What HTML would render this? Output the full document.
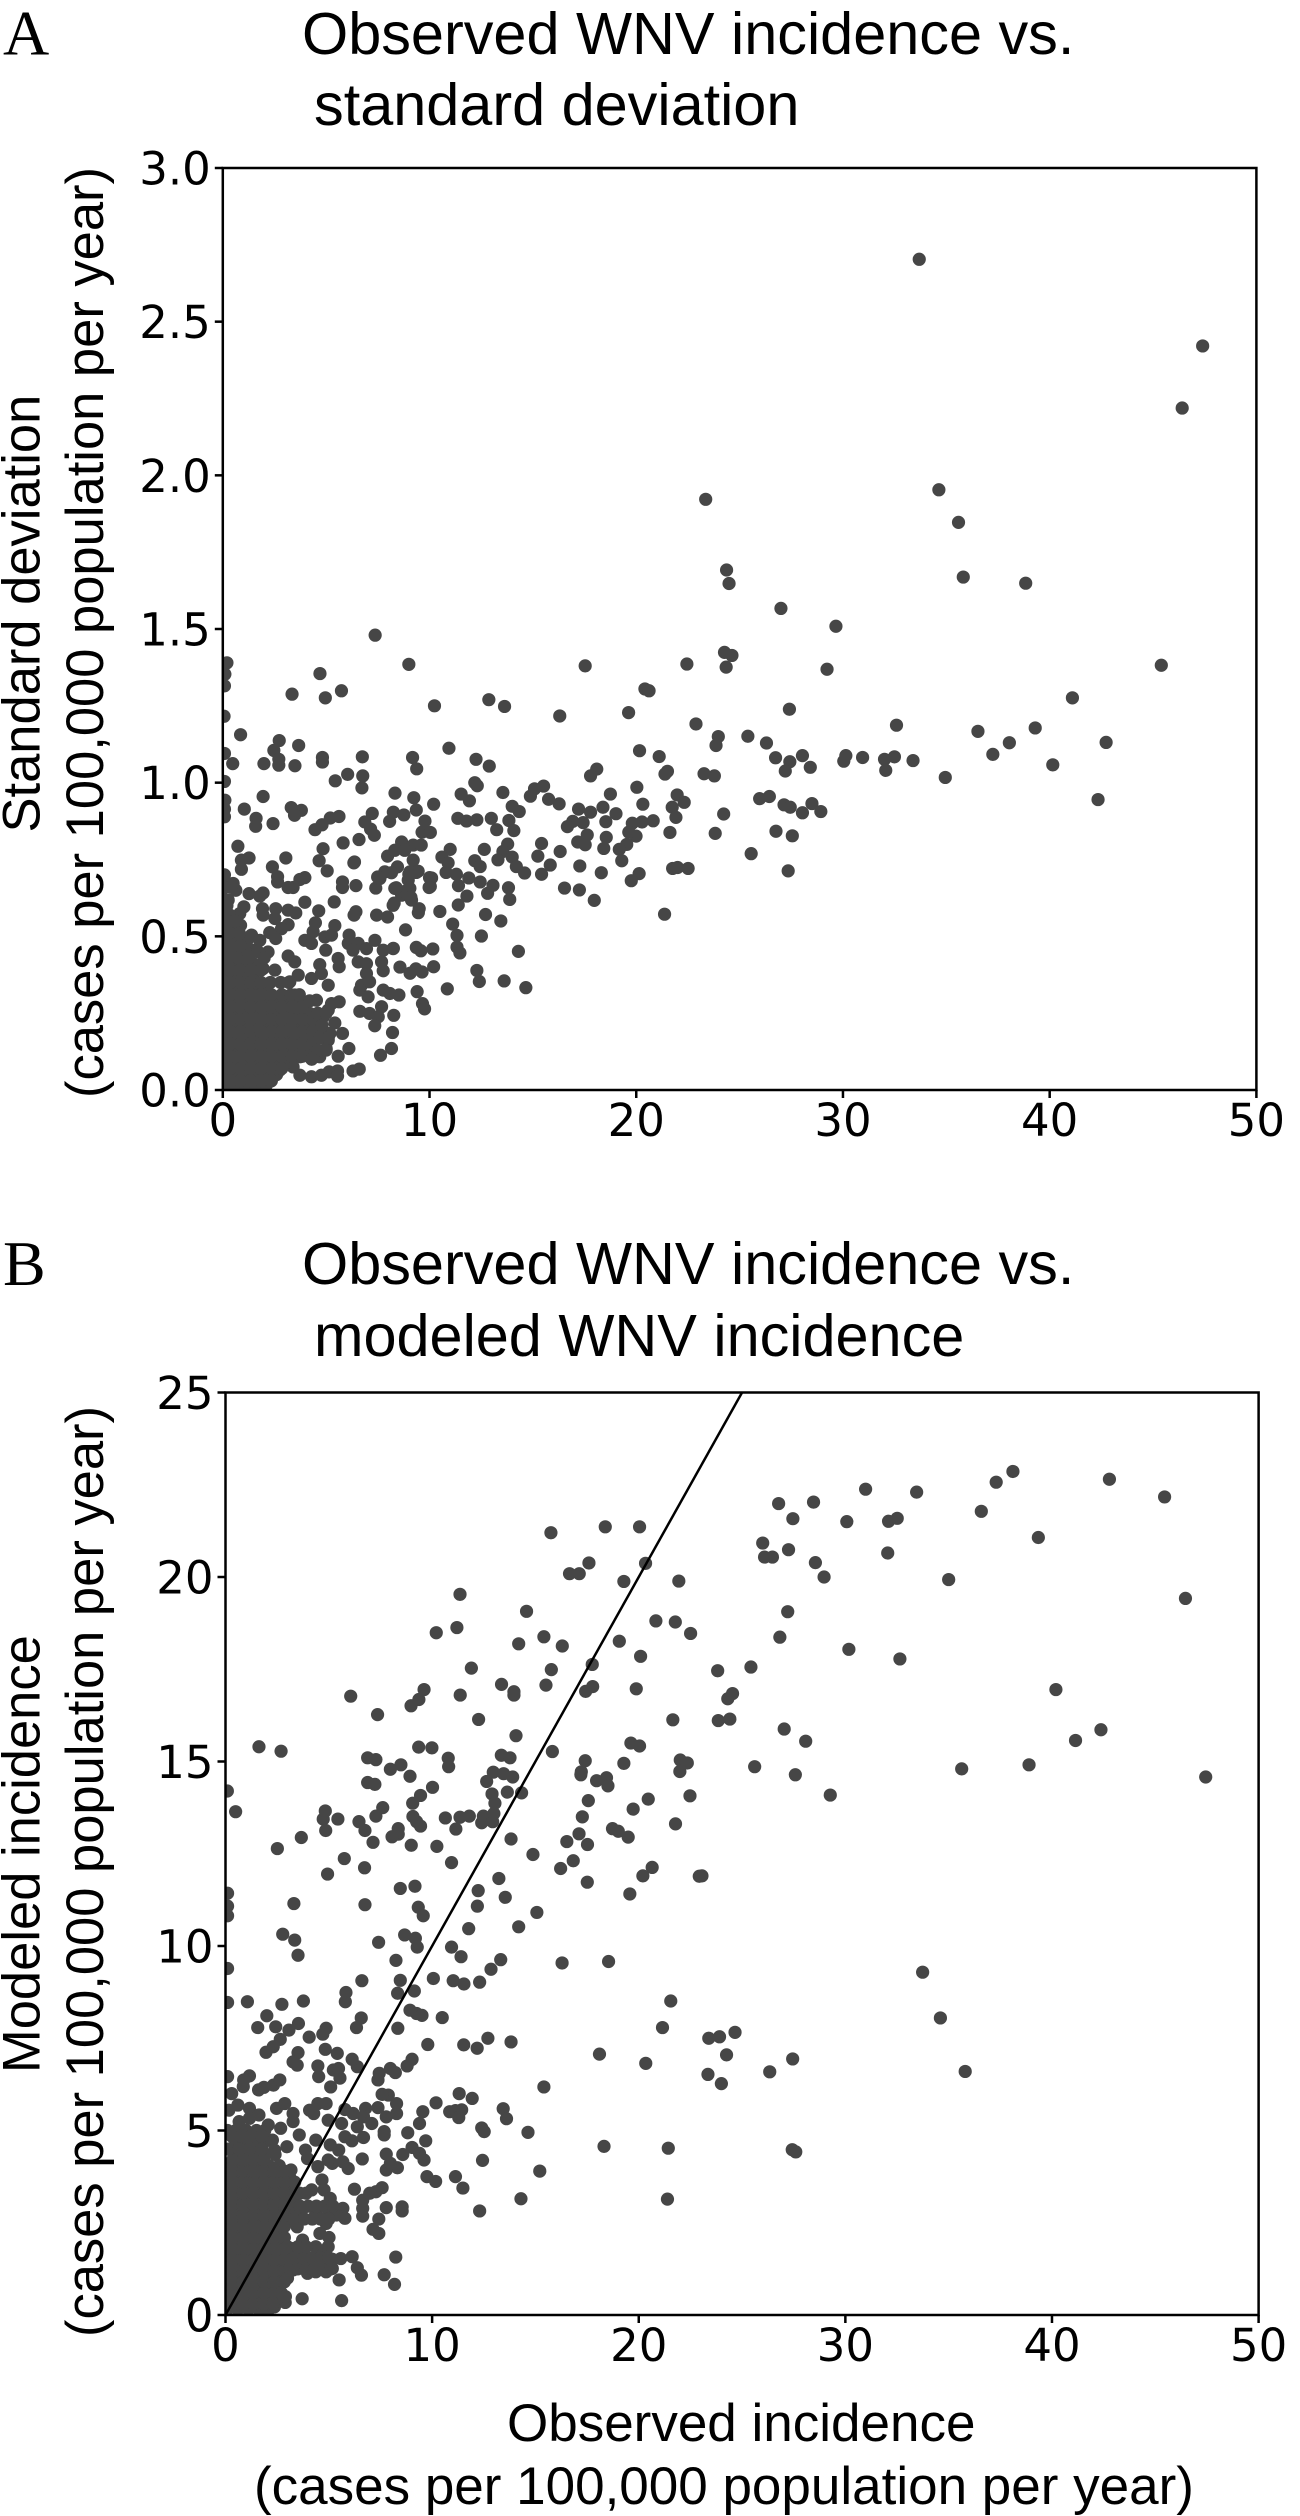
<!DOCTYPE html>
<html lang="en">
<head>
<meta charset="utf-8">
<title>Observed WNV incidence charts</title>
<style>
html,body{margin:0;padding:0;background:#fff;width:1300px;height:2516px;overflow:hidden}
svg{display:block}
.ttl,.lab{font-family:"Liberation Sans",Arial,sans-serif;fill:#000}
.ttl{font-size:59.4px}
.lab{font-size:53px}
.lab.yl{font-size:52.5px}
.let{font-family:"Liberation Serif",serif;font-size:64px;fill:#000}
</style>
</head>
<body>
<svg id="figure" xmlns="http://www.w3.org/2000/svg" width="1300" height="2516" viewBox="0 0 1300 2516">
<text class="let" x="3" y="54.5">A</text>
<text class="ttl" x="302" y="54">Observed WNV incidence vs.</text>
<text class="ttl" x="314" y="125">standard deviation</text>
<text class="lab yl" transform="translate(39.5,832.5) rotate(-90)">Standard deviation</text>
<text class="lab yl" transform="translate(103,1098) rotate(-90)">(cases per 100,000 population per year)</text>
<text class="let" x="3" y="1285">B</text>
<text class="ttl" x="302" y="1284">Observed WNV incidence vs.</text>
<text class="ttl" x="314" y="1356">modeled WNV incidence</text>
<text class="lab yl" transform="translate(39.5,2073) rotate(-90)">Modeled incidence</text>
<text class="lab yl" transform="translate(103,2337) rotate(-90)">(cases per 100,000 population per year)</text>
<text class="lab" x="507" y="2441">Observed incidence</text>
<text class="lab" x="254" y="2504">(cases per 100,000 population per year)</text>
</svg>
<script>
const xTickValues=[0,10,20,30,40,50];
const xTickLabels=['0','10','20','30','40','50'];
const panelAYTickValues=[0,0.5,1,1.5,2,2.5,3];
const panelAYTickLabels=['0.0','0.5','1.0','1.5','2.0','2.5','3.0'];
const panelBYTickValues=[0,5,10,15,20,25];
const panelBYTickLabels=['0','5','10','15','20','25'];
const referenceLineValues=[0,25];

const panelAObserved=[
33.69,47.4,46.41,23.36,34.64,35.59,24.37,24.49,35.82,38.84,27.0,29.66,
24.27,24.63,22.45,24.35,29.23,45.4,20.42,20.62,41.1,27.41,19.63,22.89,
32.59,36.53,39.3,42.73,38.05,37.25,40.15,34.95,42.34,23.97,23.86,25.4,
26.3,26.74,27.43,28.04,28.42,27.21,30.04,30.14,30.95,32.01,32.49,32.07,
33.39,20.16,21.11,21.51,21.39,23.28,23.78,20.03,21.98,22.32,20.32,21.74,
21.92,25.97,26.44,27.15,27.45,28.5,28.04,28.93,24.23,20.82,20.28,19.81,
21.63,23.82,26.76,27.55,19.99,25.56,27.35,21.76,22.0,22.51,21.37,7.37,
9.0,17.53,4.7,5.74,3.35,4.96,10.24,12.87,13.63,16.3,10.94,0.86,
2.73,2.47,3.67,0.2,0.1,0.08,0.06,0.08,0.08,0.1,0.08,0.08,
0.48,1.99,2.71,2.71,3.49,4.82,4.82,6.75,9.18,9.38,6.77,6.04,
5.44,6.73,12.25,12.89,12.19,12.31,18.09,17.79,15.52,15.08,14.88,15.76,
16.27,13.55,11.53,11.93,18.75,8.33,9.24,9.36,10.2,1.95,1.04,3.31,
3.8,3.47,1.61,1.59,2.43,7.23,6.87,7.15,7.33,6.59,5.62,5.2,
4.8,4.46,8.25,8.07,8.76,9.78,9.64,10.04,11.37,11.79,12.29,12.99,
13.25,14.0,14.34,13.84,14.08,17.21,17.79,18.39,19.02,18.53,19.64,16.93,
17.43,16.67,17.63,18.55,19.54,17.17,17.53,18.43,19.18,19.3,15.42,13.78,
12.65,13.55,16.32,15.24,14.0,13.31,14.2,15.84,12.19,12.45,17.27,14.6,
15.42,20.14,19.76,18.31,16.53,17.25,17.97,13.82,13.07,12.81,13.88,11.9,
12.45,11.0,10.6,10.9,10.8,11.3,10.1,10.04,11.4,11.81,11.39,10.5,
12.71,13.45,11.12,11.33,12.51,11.33,11.47,14.3,12.29,12.41,13.61,14.66,
10.86,10.16,10.2,9.58,9.36,9.64,9.34,9.06,8.57,8.84,8.25,9.46,
9.4,9.66,9.76,0.73,1.27,0.9,0.9,3.05,2.4,2.65,2.65,3.97,
3.73,3.4,3.16,4.85,4.66,5.05,5.82,6.34,5.79,5.79,6.44,7.4,
7.6,7.84,8.45,8.16,7.97,8.32,8.65,9.21,9.6,8.8,9.21,9.05,
9.45,8.97,9.05,8.32,8.65,8.24,9.13,10.0,9.98,6.44,6.35,7.44,
7.97,5.39,4.64,3.97,1.95,1.27,1.79,0.5,0.63,0.26,1.02,0.82,
1.92,2.56,1.95,2.52,3.16,3.53,4.48,5.42,3.16,2.84,2.27,2.56,
0.86,0.34,0.34,1.39,1.06,1.79,2.19,1.47,0.34,4.37,3.97,4.29,
4.94,5.26,4.98,6.11,6.07,6.55,6.95,7.36,7.76,8.24,6.3,3.16,
3.48,4.69,4.77,5.58,5.63,5.1,4.29,3.65,3.24,2.52,1.95,1.47,
0.82,6.55,6.95,7.68,7.76,6.95,6.71,7.1,6.63,7.03,7.76,8.52,
8.08,7.68,6.63,7.1,7.52,8.27,7.35,8.21,8.16,7.63,5.79,6.1,
5.42,5.58,5.63,5.1,5.26,4.53,3.73,3.48,2.76,4.86,4.37,4.69,
5.1,5.18,5.0,4.37,4.69,3.73,3.89,3.57,3.08,2.6,2.27,2.92,
1.95,1.47,1.47,0.82,0.5,0.82,0.34,2.76,3.4,3.73,4.29,4.77,
5.14,5.55,5.55,6.3,6.6,0.34,0.34,2.11,1.47,3.08,3.24,4.21,
4.05,4.21,3.4,2.6,6.37,7.49,9.36,9.0,8.8,8.29,9.1,8.39,9.5,
0.1,0.6,1.1,1.6,2.1,
0.1,0.6,1.1,1.6,2.1,2.6,
0.1,0.6,1.1,1.6,2.1,2.6,3.1,
0.1,0.6,1.1,1.6,2.1,2.6,3.1,3.6,
0.1,0.6,1.1,1.6,2.1,2.6,3.1,3.6,4.1,
0.1,0.6,1.1,1.6,2.1,2.6,3.1,3.6,4.1,
0.1,0.6,1.1,1.6,2.1,2.6,3.1,3.6,
0.1,0.6,1.1,1.6,2.1,2.6,3.1,
0.1,0.6,1.1,1.6,2.1,
0.1,0.6,1.1,
0.1,0.5,1.0,1.5,
0.1,0.6,1.1,1.7,
0.1,0.6,1.2,
0.1,0.5,
0.1,0.3,
0.1,0.1,0.4,0.08,
0.35,0.85,1.35,1.85,2.35,
0.35,0.85,1.35,1.85,2.35,2.85,
0.35,0.85,1.35,1.85,2.35,2.85,3.35,3.85,
0.35,0.85,1.35,1.85,2.35,2.85,3.35,3.85,4.35,
0.35,0.85,1.35,1.85,2.35,2.85,3.35,3.85,4.35,
0.35,0.85,1.35,1.85,2.35,2.85,3.35,3.85,4.35,
0.35,0.85,1.35,1.85,2.35,2.85,3.35,3.85,
0.35,0.85,1.35,1.85,2.35,2.85,
0.35,0.85,1.35,1.85,2.3,
0.35,0.85,1.35,1.85,
0.3,0.75,1.25,2.0,
0.35,0.85,
0.3,0.8,
0.2,0.6,
0.2,
4.6,5.0,4.7,5.1,4.8,4.6,5.0,4.2,4.3,3.3,3.7,2.8,3.2
];
const panelAStdDev=[
2.703,2.421,2.219,1.922,1.953,1.847,1.692,1.648,1.669,1.649,1.567,1.509,
1.424,1.414,1.386,1.376,1.369,1.382,1.305,1.299,1.276,1.239,1.228,1.191,
1.187,1.167,1.178,1.131,1.13,1.092,1.058,1.017,0.945,1.15,1.121,1.151,
1.129,1.081,1.068,1.088,1.05,1.038,1.07,1.088,1.082,1.076,1.084,1.04,
1.072,1.104,1.085,1.037,1.028,1.029,1.022,0.985,0.96,0.936,0.93,0.92,
0.887,0.948,0.955,0.928,0.92,0.932,0.902,0.906,0.898,0.876,0.872,0.868,
0.838,0.835,0.842,0.827,0.826,0.769,0.713,0.721,0.724,0.721,0.572,1.48,
1.385,1.38,1.355,1.299,1.288,1.276,1.25,1.27,1.248,1.217,1.112,1.156,
1.137,1.105,1.121,1.39,1.353,1.315,1.216,1.095,1.004,0.943,0.914,0.889,
1.062,1.062,1.076,1.057,1.055,1.082,1.067,1.084,1.082,1.045,1.022,1.027,
1.006,0.983,1.076,1.054,1.0,0.99,1.044,1.022,0.989,0.98,0.956,0.946,
0.931,0.968,0.963,0.941,0.963,0.966,0.951,0.911,0.93,0.955,0.914,0.919,
0.91,0.894,0.884,0.858,0.867,0.9,0.872,0.849,0.829,0.815,0.89,0.885,
0.863,0.847,0.904,0.874,0.895,0.875,0.839,0.838,0.884,0.875,0.879,0.884,
0.847,0.923,0.906,0.877,0.844,0.914,0.904,0.92,0.899,0.873,0.839,0.874,
0.87,0.857,0.83,0.822,0.799,0.807,0.798,0.786,0.783,0.746,0.802,0.8,
0.783,0.776,0.776,0.761,0.758,0.749,0.727,0.732,0.746,0.727,0.729,0.706,
0.702,0.704,0.681,0.707,0.657,0.651,0.617,0.658,0.666,0.64,0.62,0.69,
0.677,0.783,0.758,0.739,0.708,0.702,0.69,0.662,0.665,0.631,0.602,0.581,
0.571,0.55,0.54,0.503,0.501,0.465,0.446,0.451,0.389,0.353,0.355,0.333,
0.329,0.459,0.401,0.453,0.464,0.384,0.394,0.38,0.4,0.521,0.461,0.577,
0.32,0.281,0.264,0.793,0.755,0.748,0.718,0.755,0.726,0.694,0.677,0.691,
0.685,0.659,0.659,0.785,0.746,0.713,0.804,0.739,0.677,0.659,0.665,0.657,
0.688,0.71,0.726,0.707,0.761,0.78,0.807,0.797,0.797,0.78,0.748,0.71,
0.712,0.683,0.656,0.656,0.634,0.601,0.618,0.691,0.659,0.58,0.569,0.569,
0.563,0.612,0.583,0.611,0.641,0.639,0.631,0.672,0.65,0.618,0.596,0.574,
0.59,0.59,0.569,0.558,0.585,0.576,0.544,0.535,0.538,0.525,0.512,0.493,
0.536,0.569,0.504,0.504,0.482,0.487,0.449,0.455,0.455,0.515,0.487,0.477,
0.498,0.504,0.455,0.504,0.477,0.477,0.46,0.487,0.455,0.46,0.455,0.436,
0.417,0.408,0.379,0.428,0.401,0.341,0.363,0.374,0.352,0.39,0.395,0.379,
0.379,0.417,0.411,0.417,0.388,0.379,0.341,0.352,0.325,0.303,0.325,0.309,
0.314,0.271,0.256,0.249,0.238,0.243,0.209,0.187,0.135,0.113,0.184,0.135,
0.218,0.11,0.287,0.26,0.281,0.292,0.292,0.309,0.281,0.238,0.227,0.195,
0.162,0.184,0.135,0.162,0.108,0.108,0.14,0.216,0.184,0.238,0.184,0.13,
0.13,0.195,0.271,0.292,0.205,0.119,0.119,0.065,0.075,0.048,0.043,0.048,
0.059,0.062,0.045,0.062,0.068,0.27,0.357,0.325,0.336,0.271,0.227,0.249,
0.195,0.13,0.162,0.15,0.742,0.693,0.708,0.702,0.646,0.608,0.627,0.658,0.59,
0.015,0.015,0.015,0.015,0.015,
0.05,0.05,0.05,0.05,0.05,0.05,
0.09,0.09,0.09,0.09,0.09,0.09,0.09,
0.13,0.13,0.13,0.13,0.13,0.13,0.13,0.13,
0.17,0.17,0.17,0.17,0.17,0.17,0.17,0.17,0.17,
0.21,0.21,0.21,0.21,0.21,0.21,0.21,0.21,0.21,
0.25,0.25,0.25,0.25,0.25,0.25,0.25,0.25,
0.29,0.29,0.29,0.29,0.29,0.29,0.29,
0.33,0.33,0.33,0.33,0.33,
0.37,0.37,0.37,
0.41,0.41,0.41,0.41,
0.45,0.45,0.45,0.45,
0.49,0.49,0.49,
0.53,0.53,
0.57,0.57,
0.62,0.66,0.66,0.7,
0.03,0.03,0.03,0.03,0.03,
0.07,0.07,0.07,0.07,0.07,0.07,
0.11,0.11,0.11,0.11,0.11,0.11,0.11,0.11,
0.15,0.15,0.15,0.15,0.15,0.15,0.15,0.15,0.15,
0.19,0.19,0.19,0.19,0.19,0.19,0.19,0.19,0.19,
0.23,0.23,0.23,0.23,0.23,0.23,0.23,0.23,0.23,
0.27,0.27,0.27,0.27,0.27,0.27,0.27,0.27,
0.31,0.31,0.31,0.31,0.31,0.31,
0.35,0.35,0.35,0.35,0.35,
0.39,0.39,0.39,0.39,
0.43,0.43,0.43,0.43,
0.47,0.47,
0.51,0.51,
0.55,0.55,
0.6,
0.13,0.13,0.17,0.17,0.21,0.25,0.25,0.29,0.1,0.31,0.31,0.35,0.35
];

const panelBObserved=[
38.11,37.3,42.78,45.45,30.98,33.45,28.46,26.77,36.58,27.46,30.07,32.09,
32.51,39.34,26.0,27.25,26.09,26.47,32.05,28.55,28.97,35.0,46.46,27.21,
26.83,30.17,32.64,23.82,25.43,40.19,24.54,24.31,23.85,24.41,27.04,28.08,
42.37,41.14,25.61,27.58,35.63,38.89,47.44,29.27,23.06,33.74,34.6,35.8,
27.45,26.34,27.43,27.6,24.66,23.91,23.39,24.25,23.35,24.0,21.55,21.15,
20.34,18.1,18.32,21.43,21.39,18.54,16.29,15.41,14.64,15.21,14.3,13.82,
12.7,12.18,11.53,9.79,10.49,13.44,13.6,12.4,12.52,12.44,11.94,11.31,
10.19,10.85,11.13,11.43,11.29,9.55,9.39,8.82,9.69,9.03,8.58,9.39,
9.61,9.75,10.17,11.13,11.49,12.3,8.55,8.55,7.78,7.42,7.14,7.42,
8.24,7.68,8.18,5.62,3.71,2.89,5.5,6.58,6.38,6.13,5.58,6.64,
6.64,6.64,6.24,6.98,7.28,7.58,7.78,8.32,7.98,6.62,7.78,5.94,
5.68,5.17,4.97,5.48,5.07,5.78,6.12,6.68,6.38,7.08,7.68,7.68,
7.78,8.28,8.28,7.88,7.58,7.38,6.78,6.68,6.18,5.78,5.62,4.97,
7.38,7.44,7.98,8.22,8.79,9.03,6.38,6.13,5.54,5.22,5.47,5.09,
4.51,4.47,5.41,4.83,8.34,4.87,4.71,4.05,3.53,3.07,2.43,1.56,
2.0,2.65,2.31,1.96,3.51,3.27,3.47,2.73,3.77,1.06,0.1,0.1,
0.1,0.1,0.1,2.77,3.35,3.51,3.31,0.1,1.16,0.88,0.86,1.6,
1.86,2.32,2.63,0.3,0.6,1.16,1.62,1.16,0.66,2.07,2.67,0.16,
2.47,2.87,3.27,3.27,4.07,4.47,4.87,4.27,3.57,2.97,1.56,1.06,
2.27,4.37,3.87,3.97,4.47,3.17,2.37,1.56,0.76,4.67,4.17,4.77,
5.07,5.68,5.78,5.37,4.97,4.37,4.87,3.67,3.47,4.57,5.01,3.73,
3.27,2.77,4.97,4.37,4.67,5.17,3.67,4.07,3.97,4.37,4.87,5.17,
3.27,2.87,2.57,2.37,1.76,6.34,
15.75,18.38,20.04,17.59,17.12,16.65,20.33,19.28,21.94,11.35,14.57,11.2,
10.2,20.83,21.77,22.51,15.41,14.19,16.3,19.06,20.09,17.75,11.9,15.77,
13.36,13.96,13.96,15.51,17.77,17.43,19.88,9.61,9.36,8.98,11.36,6.06,
7.36,12.25,21.65,14.06,15.82,1.62,2.69,9.35,9.99,10.78,10.8,13.35,
13.77,19.62,20.04,6.88,7.28,8.49,7.98,8.93,17.41,19.28,22.01,22.35,
21.99,17.2,17.22,17.96,18.44,18.51,6.88,7.23,10.02,12.96,13.46,13.9,
12.64,12.9,13.64,14.33,9.44,9.06,0.09,0.49,17.56,20.46,22.48,19.73,
13.04,4.83,4.73,5.44,7.61,7.28,6.46,6.75,9.07,9.25,9.44,10.64,
11.35,11.8,12.48,12.4,12.93,12.99,17.27,21.78,11.15,4.85,8.36,8.36,
8.06,18.73,19.01,19.49,17.11,3.67,7.14,8.99,10.23,13.82,16.52,17.52,
2.51,14.88,5.75,16.83,10.94,6.73,20.65,16.22,4.94,20.2,22.93,13.23,
17.51,8.46,9.17,12.23,19.57,13.54,6.75,12.19,9.33,9.57,15.07,14.19,
11.77,8.67,9.19,9.28,7.41,10.94,11.4,13.32,12.85,8.25,6.6,8.46,
10.06,11.02,11.54,12.3,5.83,5.8,8.33,9.14,6.57,8.93,9.25,9.51,
0.1,0.6,1.1,1.6,2.1,
0.1,0.6,1.1,1.6,2.1,2.5,
0.1,0.6,1.1,1.6,2.1,2.5,
0.1,0.6,1.1,1.6,2.1,2.6,
0.1,0.6,1.1,1.6,2.1,2.6,3.1,
0.1,0.6,1.1,1.6,2.1,2.6,3.1,
0.1,0.6,1.1,1.6,2.1,2.6,
0.1,0.6,1.1,1.6,2.1,2.6,
0.1,0.6,1.1,1.6,2.1,2.6,3.1,
0.1,0.6,1.1,1.6,2.1,2.6,3.1,
0.1,0.6,1.1,1.6,2.1,2.6,3.1,
0.1,0.6,1.1,1.6,2.1,2.6,3.1,
0.1,0.6,1.1,1.6,2.1,2.6,3.1,
0.1,0.6,1.1,1.6,2.1,2.6,
0.4,0.9,1.4,1.9,2.4,
0.5,1.0,1.5,1.9,
0.1,0.5,1.0,1.5,1.9,
0.35,0.85,1.35,1.85,2.3,
0.35,0.85,1.35,1.85,2.35,2.7,
0.35,0.85,1.35,1.85,2.35,2.85,
0.35,0.85,1.35,1.85,2.35,2.85,
0.35,0.85,1.35,1.85,2.35,2.85,
0.35,0.85,1.35,1.85,2.35,2.85,
0.35,0.85,1.35,1.85,2.35,2.85,
0.35,0.85,1.35,1.85,2.35,2.85,
0.35,0.85,1.35,1.85,2.35,2.85,3.35,
0.35,0.85,1.35,1.85,2.35,2.85,3.35,
0.35,0.85,1.35,1.85,2.35,2.85,3.35,
0.35,0.85,1.35,1.85,2.35,2.85,3.35,
0.35,0.85,1.35,1.85,2.35,2.85,
0.35,0.85,1.35,1.85,
0.15,0.65,1.15,1.75,
0.3,0.75,1.25,1.75,
3.1,3.5,3.9,4.3,4.7,5.1,
3.3,3.8,4.2,4.6,5.0,
3.0,3.5,3.9,
3.3,3.8,4.2,4.6,5.0,
3.6,4.0,4.4,4.8,5.2,
3.6,3.9,2.9,3.0
];
const panelBModeled=[
22.86,22.57,22.65,22.17,22.38,22.3,22.03,21.99,21.78,21.58,21.5,21.51,
21.59,21.07,20.92,20.74,20.54,20.54,20.65,20.39,20.0,19.93,19.42,19.06,
18.37,18.04,17.78,17.46,17.56,16.95,16.84,16.7,16.11,16.15,15.88,15.55,
15.86,15.57,14.86,14.64,14.8,14.91,14.58,14.09,11.9,9.29,8.05,6.6,
6.94,6.59,4.48,4.42,7.66,7.54,7.5,7.05,6.52,6.27,8.51,7.79,
6.82,7.07,4.57,4.52,3.14,9.58,9.54,6.18,4.95,3.9,3.15,7.4,
7.5,7.23,7.32,7.33,8.06,5.59,5.32,5.07,4.97,4.19,5.87,6.0,
5.75,5.51,5.54,5.56,5.35,5.51,5.19,4.94,4.72,4.54,4.35,4.38,
4.2,3.75,3.62,3.75,3.44,2.82,2.93,2.82,2.91,2.6,2.32,2.21,
1.57,1.09,0.83,0.39,0.44,0.34,0.95,1.08,1.28,1.58,1.53,2.68,
2.89,3.11,3.41,3.3,3.34,3.45,3.93,3.99,4.11,4.23,4.36,3.97,
4.15,4.11,4.2,4.47,4.61,4.83,4.72,4.81,5.1,5.19,4.97,4.88,
5.37,5.46,5.73,5.96,5.98,5.62,5.6,5.37,5.46,5.57,5.19,5.28,
6.37,6.55,6.68,6.57,6.75,6.93,6.73,6.93,6.42,6.64,6.68,6.18,
6.46,6.75,7.09,7.2,7.77,7.77,7.61,7.53,7.9,7.72,7.81,7.79,
8.11,7.47,7.27,7.12,7.11,6.86,6.77,8.42,8.51,8.49,8.47,9.39,
11.43,11.08,10.82,10.32,10.16,9.75,11.15,6.46,6.48,6.37,6.19,6.1,
6.17,6.23,6.37,6.0,5.69,5.6,5.42,5.33,5.24,5.15,5.06,5.55,
5.6,5.73,5.46,5.24,5.55,5.73,5.73,5.46,4.88,4.56,4.92,4.83,
4.74,4.74,4.47,4.24,4.02,3.93,4.47,4.47,4.65,3.66,3.39,3.39,
3.16,2.89,2.62,2.71,2.71,2.75,2.48,2.8,2.39,2.21,2.1,2.03,
1.8,2.12,1.85,1.85,1.62,1.51,1.53,1.4,1.13,1.17,1.17,1.26,
1.22,0.99,0.68,0.22,0.13,7.79,
21.2,21.36,21.36,20.38,20.09,20.09,20.37,19.88,19.89,19.53,19.07,18.63,
18.49,18.81,18.78,18.47,18.38,18.19,18.13,18.26,17.85,17.63,17.53,17.49,
17.09,16.89,16.8,17.07,17.03,16.9,16.97,16.95,16.68,16.51,16.8,16.77,
16.27,16.14,16.13,15.7,15.27,15.4,15.28,15.39,15.37,15.09,14.86,15.17,
15.1,15.5,15.42,15.1,15.05,14.91,14.79,14.6,15.02,14.95,15.04,14.96,
14.73,14.64,14.72,14.48,14.56,14.34,14.43,14.38,14.3,14.71,14.67,14.58,
14.46,14.12,14.17,14.15,14.08,13.87,14.2,13.64,13.94,13.98,14.07,13.71,
13.87,13.66,13.44,13.44,13.75,13.52,13.37,13.13,13.51,13.37,13.25,13.47,
13.49,13.52,13.52,13.34,13.37,13.59,13.5,13.31,13.17,13.13,13.18,13.03,
12.96,13.18,13.11,12.95,13.04,12.94,12.81,12.73,12.7,12.9,12.83,12.75,
12.64,12.48,12.37,12.31,12.26,12.12,12.13,12.1,11.95,11.9,11.89,11.83,
11.73,11.56,11.62,11.5,11.41,11.32,11.12,11.08,11.05,10.82,10.91,10.52,
10.47,10.3,10.21,9.97,10.1,9.97,9.71,9.63,9.37,9.61,9.06,9.07,
9.12,9.06,8.97,9.02,8.74,8.49,8.72,8.78,8.05,8.26,8.17,8.12,
0.15,0.15,0.15,0.15,0.15,
0.45,0.45,0.45,0.45,0.45,0.45,
0.75,0.75,0.75,0.75,0.75,0.75,
1.05,1.05,1.05,1.05,1.05,1.05,
1.35,1.35,1.35,1.35,1.35,1.35,1.35,
1.65,1.65,1.65,1.65,1.65,1.65,1.65,
1.95,1.95,1.95,1.95,1.95,1.95,
2.25,2.25,2.25,2.25,2.25,2.25,
2.55,2.55,2.55,2.55,2.55,2.55,2.55,
2.85,2.85,2.85,2.85,2.85,2.85,2.85,
3.15,3.15,3.15,3.15,3.15,3.15,3.15,
3.45,3.45,3.45,3.45,3.45,3.45,3.45,
3.75,3.75,3.75,3.75,3.75,3.75,3.75,
4.05,4.05,4.05,4.05,4.05,4.05,
4.35,4.35,4.35,4.35,4.35,
4.7,4.7,4.7,4.7,
5.0,5.0,5.0,5.0,5.0,
0.3,0.3,0.3,0.3,0.3,
0.6,0.6,0.6,0.6,0.6,0.6,
0.9,0.9,0.9,0.9,0.9,0.9,
1.2,1.2,1.2,1.2,1.2,1.2,
1.5,1.5,1.5,1.5,1.5,1.5,
1.8,1.8,1.8,1.8,1.8,1.8,
2.1,2.1,2.1,2.1,2.1,2.1,
2.4,2.4,2.4,2.4,2.4,2.4,
2.7,2.7,2.7,2.7,2.7,2.7,2.7,
3.0,3.0,3.0,3.0,3.0,3.0,3.0,
3.3,3.3,3.3,3.3,3.3,3.3,3.3,
3.6,3.6,3.6,3.6,3.6,3.6,3.6,
3.9,3.9,3.9,3.9,3.9,3.9,
4.2,4.2,4.2,4.2,
4.5,4.5,4.5,4.5,
4.85,4.85,4.85,4.85,
1.25,1.25,1.25,1.25,1.25,1.25,
1.55,1.55,1.55,1.55,1.55,
1.85,1.85,1.85,
2.6,2.6,2.6,2.6,2.6,
2.95,2.95,2.95,2.95,2.95,
3.3,3.3,0.5,1.0
];

const SVG_NS='http://www.w3.org/2000/svg';
const figure=document.getElementById('figure');

function makeScale(d0,d1,p0,p1){
  return function(v){return p0+(v-d0)*(p1-p0)/(d1-d0);};
}
function svgEl(tag,attrs,parent){
  const el=document.createElementNS(SVG_NS,tag);
  for(const k in attrs){el.setAttribute(k,attrs[k]);}
  parent.appendChild(el);
  return el;
}

function drawPanel(id,box,yMax,xs,ys,yTicks,yLabels,line){
  const sx=makeScale(0,50,box.left,box.right);
  const sy=makeScale(0,yMax,box.bottom,box.top);
  const group=svgEl('g',{},figure);
  
  
  const defs=svgEl('defs',{},group);
  const clip=svgEl('clipPath',{id:id+'-clip'},defs);
  svgEl('rect',{x:box.left,y:box.top,width:box.right-box.left,height:box.bottom-box.top},clip);
  const pts=svgEl('g',{'clip-path':'url(#'+id+'-clip)',fill:'#464646'},group);
  
  
  for(let i=0;i<xs.length;i++){
    const dot=svgEl('circle',{cx:sx(xs[i]),cy:sy(ys[i]),r:6.6},pts);
    
    
  }
  if(line){
    const ref=svgEl('line',{x1:sx(line[0]),y1:sy(line[0]),x2:sx(line[1]),y2:sy(line[1]),stroke:'#000','stroke-width':2.5,'clip-path':'url(#'+id+'-clip)'},group);
    
    
  }
  const frame=svgEl('rect',{x:box.left,y:box.top,width:box.right-box.left,height:box.bottom-box.top,fill:'none',stroke:'#000','stroke-width':2.5},group);
  
  
  for(let i=0;i<xTickValues.length;i++){
    const px=sx(xTickValues[i]);
    const t=svgEl('line',{x1:px,y1:box.bottom,x2:px,y2:box.bottom+8,stroke:'#000','stroke-width':2.5},group);
    
    
    const lab=svgEl('text',{x:px,y:box.bottom+46,'text-anchor':'middle','font-family':'"DejaVu Sans",sans-serif','font-size':45,fill:'#000'},group);
    lab.textContent=xTickLabels[i];
    
    
  }
  for(let i=0;i<yTicks.length;i++){
    const py=sy(yTicks[i]);
    const t=svgEl('line',{x1:box.left-8,y1:py,x2:box.left,y2:py,stroke:'#000','stroke-width':2.5},group);
    
    
    const lab=svgEl('text',{x:box.left-12,y:py+16.5,'text-anchor':'end','font-family':'"DejaVu Sans",sans-serif','font-size':45,fill:'#000'},group);
    lab.textContent=yLabels[i];
    
    
  }
}

drawPanel('panel-a',{left:222.8,right:1256.4,top:168,bottom:1090},3,panelAObserved,panelAStdDev,panelAYTickValues,panelAYTickLabels,null);
drawPanel('panel-b',{left:225.5,right:1258.6,top:1392.5,bottom:2315},25,panelBObserved,panelBModeled,panelBYTickValues,panelBYTickLabels,referenceLineValues);
</script>
</body>
</html>
